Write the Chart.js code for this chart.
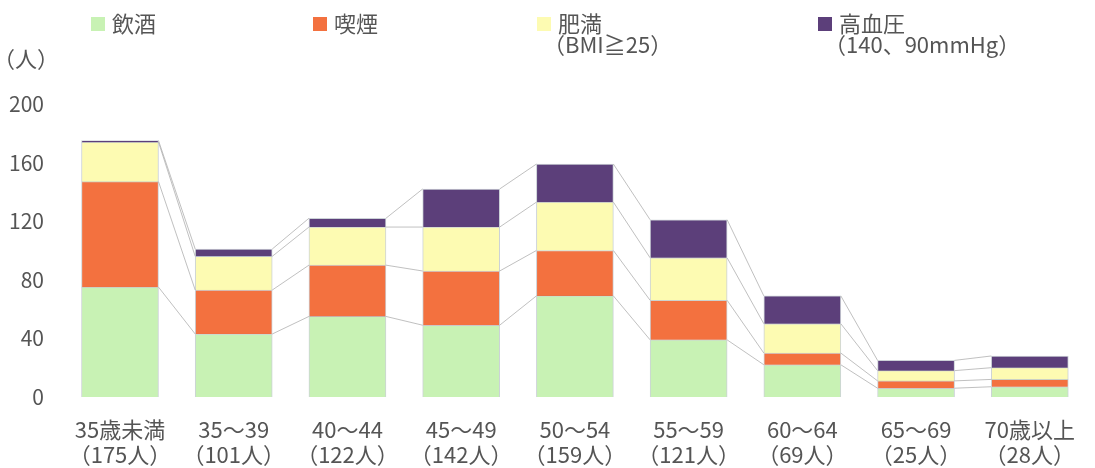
<!DOCTYPE html>
<html lang="ja">
<head>
<meta charset="utf-8">
<title>年齢別リスク保有者数</title>
<script src="https://cdn.jsdelivr.net/npm/chart.js@4.4.1/dist/chart.umd.min.js"></script>
<style>
  html, body { margin: 0; padding: 0; background: #fff; overflow: hidden; }
  canvas { display: block; }
</style>
</head>
<body>
<canvas id="riskChart" width="1095" height="468"></canvas>
<script>
// --- data ---
const ageGroups = ['35歳未満', '35～39', '40～44', '45～49', '50～54', '55～59', '60～64', '65～69', '70歳以上'];
const groupTotals = ['（175人）', '（101人）', '（122人）', '（142人）', '（159人）', '（121人）', '（69人）', '（25人）', '（28人）'];
const drinking = [75, 43, 55, 49, 69, 39, 22, 6, 7];
const smoking = [72, 30, 35, 37, 31, 27, 8, 5, 5];
const obesity = [27, 23, 26, 30, 33, 29, 20, 7, 8];
const hypertension = [1, 5, 6, 26, 26, 26, 19, 7, 8];
const yTicks = [0, 40, 80, 120, 160, 200];
const seriesNames = ['飲酒', '喫煙', '肥満', '高血圧'];
const seriesNotes = ['', '', '（BMI≧25）', '（140、90mmHg）'];
const unitLabel = '（人）';

const seriesColors = ['#c8f2b4', '#f3713f', '#fdfbb2', '#5c3f7a'];
const textColor = '#555555';
const fontFamily = '"Noto Sans CJK JP", "Noto Sans", sans-serif';

// thin grey lines joining the top of each segment to the same segment of the next bar
const seriesLines = {
    id: 'seriesLines',
    afterDatasetsDraw(chart) {
        const ctx = chart.ctx;
        ctx.save();
        ctx.strokeStyle = '#b0b0b0';
        ctx.lineWidth = 0.8;
        chart.data.datasets.forEach((ds, d) => {
            const bars = chart.getDatasetMeta(d).data;
            for (let i = 0; i < bars.length - 1; i++) {
                const a = bars[i].getProps(['x', 'y', 'width'], true);
                const b = bars[i + 1].getProps(['x', 'y', 'width'], true);
                ctx.beginPath();
                ctx.moveTo(a.x + a.width / 2, a.y);
                ctx.lineTo(b.x - b.width / 2, b.y);
                ctx.stroke();
            }
        });
        ctx.restore();
    }
};

// legend drawn by hand: two-line entries are not handled by the built-in one
const legendX = [91, 313, 537, 818];
const riskLegend = {
    id: 'riskLegend',
    afterDraw(chart) {
        const ctx = chart.ctx;
        ctx.save();
        ctx.font = '22px ' + fontFamily;
        ctx.textBaseline = 'middle';
        ctx.textAlign = 'left';
        chart.data.datasets.forEach((ds, i) => {
            const x = legendX[i];
            ctx.fillStyle = ds.backgroundColor;
            ctx.fillRect(x, 17, 14, 14);
            ctx.fillStyle = textColor;
            ctx.fillText(ds.label, x + 21, 24);
            if (seriesNotes[i]) ctx.fillText(seriesNotes[i], x + 6, 45);
        });
        ctx.textAlign = 'center';
        ctx.fillText(unitLabel, 26, 59);
        ctx.restore();
    }
};

const datasetValues = [drinking, smoking, obesity, hypertension];

new Chart(document.getElementById('riskChart'), {
    type: 'bar',
    data: {
        labels: ageGroups.map((g, i) => [g, groupTotals[i]]),
        datasets: datasetValues.map((vals, i) => ({
            label: seriesNames[i],
            data: vals,
            backgroundColor: seriesColors[i],
            borderColor: 'rgba(110,125,140,0.35)',
            borderWidth: 1,
            barThickness: 77,
            clip: false
        }))
    },
    options: {
        responsive: false,
        animation: false,
        layout: { padding: { top: 104, right: 51, bottom: 0, left: 0 } },
        plugins: {
            legend: { display: false },
            tooltip: { enabled: false }
        },
        scales: {
            x: {
                stacked: true,
                offset: false,
                grid: { display: false, drawTicks: false },
                border: { display: false },
                afterFit: s => { s.height = 71; },
                ticks: {
                    color: textColor,
                    padding: 20,
                    maxRotation: 0,
                    autoSkip: false,
                    font: { family: fontFamily, size: 22, lineHeight: 1.14 }
                }
            },
            y: {
                stacked: true,
                min: 0,
                max: 200,
                grid: { display: false, drawTicks: false },
                border: { display: false },
                // wide axis so the first bar sits where it does in the original;
                // drop the vertical label padding the big tick padding would add
                afterFit: s => { s.width = 120; s.paddingTop = 0; s.paddingBottom = 0; },
                afterBuildTicks: s => { s.ticks = yTicks.map(v => ({ value: v })); },
                ticks: {
                    color: textColor,
                    padding: 76,
                    font: { family: fontFamily, size: 21 }
                }
            }
        }
    },
    plugins: [seriesLines, riskLegend]
});
</script>
</body>
</html>
